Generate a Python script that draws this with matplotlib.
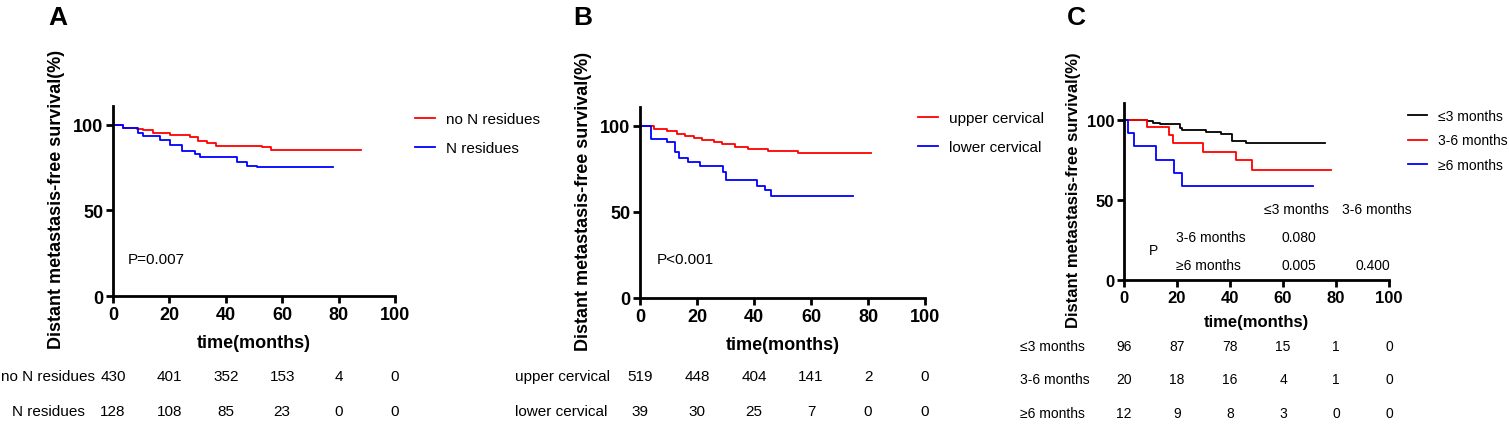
import matplotlib
matplotlib.use("Agg")
import matplotlib.pyplot as plt
from matplotlib.transforms import blended_transform_factory

plt.rcParams['font.family'] = ['Liberation Sans', 'DejaVu Sans']

W, H = 1509, 427

# ---- panel A: N residues ----
a_groups = ['no N residues', 'N residues']
a_colors = ['#ff0000', '#0000ff']
a_t = [
    [0, 3.7, 8.4, 10.7, 14.3, 20.2, 27.3, 30.3, 33.2, 36.7, 52.7, 56.2, 88],
    [0, 3.7, 9, 10.7, 16.6, 20.2, 24.4, 29, 31, 44, 47.5, 51, 78],
]
a_s = [
    [100, 98.2, 97.6, 96.7, 95.1, 94, 92.8, 90.8, 89.3, 87.7, 87.3, 85.4, 85.4],
    [100, 98.2, 95, 93.7, 91, 88, 84.6, 83, 81, 78, 76, 75.2, 75.2],
]
a_risk = [[430, 401, 352, 153, 4, 0], [128, 108, 85, 23, 0, 0]]
a_p = 'P=0.007'

# ---- panel B: cervical level ----
b_groups = ['upper cervical', 'lower cervical']
b_colors = ['#ff0000', '#0000ff']
b_t = [
    [0, 5, 9.4, 13, 15.8, 19, 21.6, 26, 28.6, 33.3, 38, 45, 52, 55.6, 81],
    [0, 4, 9.4, 12.3, 13.7, 17, 21, 29.2, 30, 41, 44, 46, 74.7],
]
b_s = [
    [100, 98.3, 97, 95.5, 94.4, 93, 92, 90.5, 89.5, 87.6, 86.8, 85.6, 85.2, 84.1, 84.1],
    [100, 92.4, 90.5, 84.7, 81.2, 78.9, 76.9, 73.1, 68.8, 65.3, 62.8, 59.5, 59.5],
]
b_risk = [[519, 448, 404, 141, 2, 0], [39, 30, 25, 7, 0, 0]]
b_p = 'P<0.001'

# ---- panel C: interval ----
c_groups = ['\u22643 months', '3-6 months', '\u22656 months']
c_colors = ['#000000', '#ff0000', '#0000ff']
c_t = [
    [0, 8.6, 11, 13.5, 21, 22, 30.8, 36.5, 40.9, 45.9, 75.8],
    [0, 8.8, 17.1, 18.6, 29.9, 42.3, 48.2, 78],
    [0, 1.6, 3.7, 12, 18.9, 21.8, 71.2],
]
c_s = [
    [100, 99.4, 98.3, 97.3, 95.2, 93.7, 92.7, 91.4, 86.9, 85.4, 85.4],
    [100, 95.8, 90.4, 85.4, 80.2, 74.8, 68.5, 68.5],
    [100, 92, 83.7, 75, 67, 58.7, 58.7],
]
c_risk = [[96, 87, 78, 15, 1, 0], [20, 18, 16, 4, 1, 0], [12, 9, 8, 3, 0, 0]]
c_pairs_cols = ['\u22643 months', '3-6 months']
c_pairs_rows = ['3-6 months', '\u22656 months']
c_pairs_vals = [['0.080', ''], ['0.005', '0.400']]

risk_times = [0, 20, 40, 60, 80, 100]


def fx(px):
    return px / W


def fy(py):
    return 1 - py / H


def setup(ax, ytop, fs):
    ax.set_xlim(0, 100)
    ax.set_ylim(0, ytop)
    ax.set_xticks([0, 20, 40, 60, 80, 100])
    ax.set_yticks([0, 50, 100])
    for s in ['top', 'right']:
        ax.spines[s].set_visible(False)
    for s in ['left', 'bottom']:
        ax.spines[s].set_linewidth(2)
    ax.tick_params(width=2, length=5, labelsize=fs, pad=2)
    for lab in ax.get_xticklabels() + ax.get_yticklabels():
        lab.set_fontweight('bold')
    ax.set_xlabel('time(months)', fontsize=fs, fontweight='bold')
    ax.set_ylabel('Distant metastasis-free survival(%)', fontsize=fs, fontweight='bold')


fig = plt.figure(figsize=(W / 100, H / 100), dpi=100)

axA = fig.add_axes([fx(113), fy(297), fx(395) - fx(113), (297 - 107) / H])
axB = fig.add_axes([fx(640), fy(299), fx(925) - fx(640), (299 - 108) / H])
axC = fig.add_axes([fx(1124), fy(281), fx(1389) - fx(1124), (281 - 104) / H])

panels = [
    (axA, a_groups, a_colors, a_t, a_s, 111, 13),
    (axB, b_groups, b_colors, b_t, b_s, 111, 13),
    (axC, c_groups, c_colors, c_t, c_s, 110.6, 12),
]
for ax, groups, colors, ts, ss, ytop, fs in panels:
    setup(ax, ytop, fs)
    for g, col, t, s in zip(groups, colors, ts, ss):
        ax.plot(t, s, drawstyle='steps-post', color=col, lw=1.3, label=g)

axA.xaxis.set_label_coords(0.5, -0.2)
axB.xaxis.set_label_coords(0.5, -0.2)
axC.xaxis.set_label_coords(0.5, -0.19)
axA.yaxis.set_label_coords(-0.17, 0.515)
axB.yaxis.set_label_coords(-0.168, 0.513)
axC.yaxis.set_label_coords(-0.162, 0.514)

# legends
legA = axA.legend(loc='upper left', bbox_to_anchor=(fx(415), fy(113)), bbox_transform=fig.transFigure,
                  frameon=False, fontsize=11, handlelength=1.3, handletextpad=0.75,
                  labelspacing=1.0, borderpad=0, borderaxespad=0)
legB = axB.legend(loc='upper left', bbox_to_anchor=(fx(918), fy(112)), bbox_transform=fig.transFigure,
                  frameon=False, fontsize=11, handlelength=1.3, handletextpad=0.75,
                  labelspacing=1.0, borderpad=0, borderaxespad=0)
legC = axC.legend(loc='upper left', bbox_to_anchor=(fx(1408), fy(110)), bbox_transform=fig.transFigure,
                  frameon=False, fontsize=10, handlelength=1.4, handletextpad=0.75,
                  labelspacing=0.75, borderpad=0, borderaxespad=0)

# p values
axA.text(5.3, 21.6, a_p, fontsize=11, va='center', ha='left')
axB.text(6, 22.7, b_p, fontsize=11, va='center', ha='left')

# pairwise table in panel C
for x, lab in zip([64.9, 95.5], c_pairs_cols):
    axC.text(x, 44.4, lab, fontsize=10, ha='center', va='center', clip_on=False)
for y, lab, vals in zip([26.9, 9.4], c_pairs_rows, c_pairs_vals):
    axC.text(19.8, y, lab, fontsize=10, ha='left', va='center')
    for x, v in zip([66, 94], vals):
        axC.text(x, y, v, fontsize=10, ha='center', va='center')
axC.text(9.4, 18.75, 'P', fontsize=10, ha='left', va='center')

# numbers at risk
def risk_table(ax, groups, risk, rows_py, lab_x, lab_ha, fs):
    tr = blended_transform_factory(ax.transData, fig.transFigure)
    for g, r, py in zip(groups, risk, rows_py):
        fig.text(fx(lab_x), fy(py), g, fontsize=fs, ha=lab_ha, va='center')
        for t, n in zip(risk_times, r):
            ax.text(t, fy(py), str(n), transform=tr, fontsize=fs, ha='center', va='center',
                    clip_on=False)


risk_table(axA, a_groups, a_risk, [377, 412], 48, 'center', 11)
risk_table(axB, b_groups, b_risk, [377, 412], 515, 'left', 11)
risk_table(axC, c_groups, c_risk, [347, 380, 414], 1020, 'left', 10)

# panel letters
for px, letter in [(48, 'A'), (573, 'B'), (1067, 'C')]:
    fig.text(fx(px), fy(25), letter, fontsize=19, fontweight='bold', ha='left', va='baseline')

fig.savefig('out.png', dpi=100)
